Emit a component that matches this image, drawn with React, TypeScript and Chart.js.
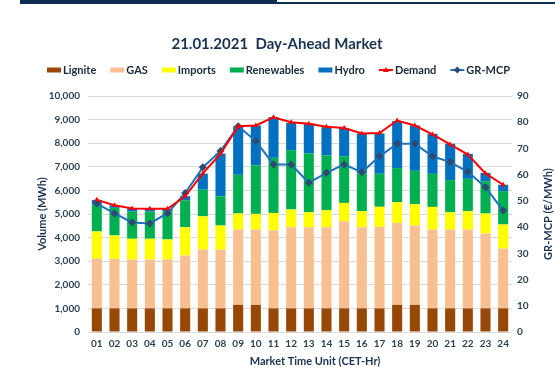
import React, { useEffect, useRef } from "react";
import { Chart, registerables } from "chart.js";

Chart.register(...registerables);

const hours = ["01","02","03","04","05","06","07","08","09","10","11","12","13","14","15","16","17","18","19","20","21","22","23","24"];
const lignite = [1000,1000,1000,1000,1000,1000,1000,1000,1150,1150,1000,1000,1000,1000,1000,1000,1000,1150,1150,1000,1000,1000,1000,1000];
const gas = [2110,2100,2070,2070,2070,2240,2490,2490,3190,3190,3310,3440,3440,3440,3690,3440,3455,3475,3360,3340,3340,3340,3170,2535];
const imports = [1150,990,880,880,850,1200,1410,1020,680,665,735,750,635,720,780,680,850,875,905,960,735,780,850,1020];
const renewables = [1140,1170,1150,1150,1200,1145,1130,1240,1640,2050,2335,2515,2490,2320,1980,1600,1400,1445,1415,1400,1360,1370,1370,1415];
const hydro = [200,110,130,130,100,170,680,1810,2060,1700,1725,1160,1275,1200,1190,1695,1710,1995,1925,1700,1540,1060,355,270];
const demand = [5600,5370,5230,5220,5220,5750,6720,7550,8720,8750,9100,8890,8820,8700,8640,8410,8430,8960,8750,8370,7950,7520,6720,6240];
const mcp = [49,45.2,41.8,41.4,45.3,53,62.8,69,78.5,72.8,63.9,63.9,56.9,60.7,63.9,60.9,67,71.8,71.8,67,64.8,61.1,55.2,46.3];

const FONT = "Lato, 'Noto Sans', sans-serif";
const C_LIGNITE = "#974706";
const C_GAS = "#F8C090";
const C_IMP = "#FFFF00";
const C_REN = "#00B050";
const C_HYD = "#0070C0";
const C_DEM = "#FF0000";
const C_MCP_LINE = "#1F72BA";
const C_MCP_PT = "#2E4A72";
const C_TEXT = "#1A3352";

const legendItems = [
  { label: "Lignite", kind: "box", color: C_LIGNITE },
  { label: "GAS", kind: "box", color: C_GAS },
  { label: "Imports", kind: "box", color: C_IMP },
  { label: "Renewables", kind: "box", color: C_REN },
  { label: "Hydro", kind: "box", color: C_HYD },
  { label: "Demand", kind: "dem", color: C_DEM },
  { label: "GR-MCP", kind: "mcp", color: C_MCP_LINE },
];

const decor = {
  id: "decor",
  afterDraw(chart: any) {
    const ctx = chart.ctx;
    const ca = chart.chartArea;
    ctx.save();
    ctx.fillStyle = C_TEXT;
    ctx.font = `bold 15px ${FONT}`;
    ctx.textAlign = "center";
    ctx.textBaseline = "middle";
    ctx.fillText("21.01.2021  Day-Ahead Market", 277, 44);

    ctx.font = `bold 11px ${FONT}`;
    const sym = 14;
    const gapSym = 2;
    const gapItem = 14;
    let total = 0;
    const widths = legendItems.map((it) => ctx.measureText(it.label).width);
    widths.forEach((w) => (total += sym + gapSym + w));
    total += gapItem * (legendItems.length - 1);
    let x = 278.5 - total / 2;
    const ly = 70;
    ctx.textAlign = "left";
    legendItems.forEach((it, i) => {
      if (it.kind === "box") {
        ctx.fillStyle = it.color;
        ctx.fillRect(x, ly - 2.5, sym, 5);
      } else {
        ctx.strokeStyle = it.color;
        ctx.lineWidth = 2;
        ctx.beginPath();
        ctx.moveTo(x, ly);
        ctx.lineTo(x + sym, ly);
        ctx.stroke();
        const cx = x + sym / 2;
        if (it.kind === "dem") {
          ctx.fillStyle = C_DEM;
          ctx.beginPath();
          ctx.moveTo(cx, ly - 3);
          ctx.lineTo(cx + 3, ly + 2);
          ctx.lineTo(cx - 3, ly + 2);
          ctx.closePath();
          ctx.fill();
        } else {
          ctx.fillStyle = C_MCP_PT;
          ctx.beginPath();
          ctx.moveTo(cx, ly - 3.5);
          ctx.lineTo(cx + 3.5, ly);
          ctx.lineTo(cx, ly + 3.5);
          ctx.lineTo(cx - 3.5, ly);
          ctx.closePath();
          ctx.fill();
        }
      }
      ctx.fillStyle = "#1A2A3A";
      ctx.fillText(it.label, x + sym + gapSym, ly + 0.5);
      x += sym + gapSym + widths[i] + gapItem;
    });

    ctx.fillStyle = C_TEXT;
    ctx.font = `bold 11px ${FONT}`;
    ctx.textAlign = "center";
    ctx.fillText("Market Time Unit (CET-Hr)", 315, 361);

    ctx.save();
    ctx.translate(42, (ca.top + ca.bottom) / 2);
    ctx.rotate(-Math.PI / 2);
    ctx.fillText("Volume (MWh)", 0, 0);
    ctx.restore();

    ctx.save();
    ctx.translate(548, (ca.top + ca.bottom) / 2);
    ctx.rotate(-Math.PI / 2);
    ctx.fillText("GR-MCP (\u20AC/MWh)", 0, 0);
    ctx.restore();

    ctx.restore();
  },
};

export default function App() {
  const ref = useRef<HTMLCanvasElement | null>(null);
  useEffect(() => {
    if (!ref.current) return;
    const barCommon = {
      type: "bar" as const,
      yAxisID: "y",
      stack: "supply",
      order: 2,
      categoryPercentage: 1,
      barPercentage: 0.57,
      borderWidth: 0,
    };
    const chart = new Chart(ref.current, {
      type: "bar",
      data: {
        labels: hours,
        datasets: [
          {
            type: "line",
            label: "Demand",
            data: demand,
            yAxisID: "y",
            stack: "demand",
            order: 0,
            borderColor: C_DEM,
            backgroundColor: C_DEM,
            borderWidth: 2,
            pointStyle: "triangle",
            pointRadius: 3,
            pointBorderWidth: 0,
            tension: 0,
          },
          {
            type: "line",
            label: "GR-MCP",
            data: mcp,
            yAxisID: "y1",
            order: 1,
            borderColor: C_MCP_LINE,
            backgroundColor: C_MCP_PT,
            pointBackgroundColor: C_MCP_PT,
            pointBorderColor: C_MCP_PT,
            borderWidth: 2,
            pointStyle: "rectRot",
            pointRadius: 4,
            pointBorderWidth: 0,
            tension: 0,
          },
          { ...barCommon, label: "Lignite", data: lignite, backgroundColor: C_LIGNITE },
          { ...barCommon, label: "GAS", data: gas, backgroundColor: C_GAS },
          { ...barCommon, label: "Imports", data: imports, backgroundColor: C_IMP },
          { ...barCommon, label: "Renewables", data: renewables, backgroundColor: C_REN },
          { ...barCommon, label: "Hydro", data: hydro, backgroundColor: C_HYD },
        ] as any,
      },
      options: {
        responsive: false,
        animation: false,
        layout: { padding: { top: 96, left: 0, right: 0, bottom: 0 } },
        plugins: {
          legend: { display: false },
          title: { display: false },
          tooltip: { enabled: false },
        },
        scales: {
          x: {
            stacked: true,
            grid: { display: false, drawTicks: false },
            border: { display: false },
            ticks: {
              color: "#2B4155",
              font: { family: FONT, size: 10, weight: "bold" },
              padding: 6,
              maxRotation: 0,
              autoSkip: false,
            },
            afterFit: (s: any) => {
              s.height = 56;
            },
          },
          y: {
            position: "left",
            stacked: true,
            min: 0,
            max: 10000,
            grid: { color: "#D9D9D9", lineWidth: 1, drawTicks: false },
            border: { display: false },
            ticks: {
              stepSize: 1000,
              color: "#2B4155",
              font: { family: FONT, size: 10, weight: "bold" },
              padding: 8,
              callback: (v: any) => Number(v).toLocaleString("en-US"),
            },
            afterFit: (s: any) => {
              s.width = 88;
            },
          },
          y1: {
            position: "right",
            min: 0,
            max: 90,
            grid: { display: false, drawTicks: false },
            border: { display: false },
            ticks: {
              stepSize: 10,
              color: "#2B4155",
              font: { family: FONT, size: 10, weight: "bold" },
              padding: 5,
            },
            afterFit: (s: any) => {
              s.width = 43;
            },
          },
        },
      } as any,
      plugins: [decor],
    });
    return () => chart.destroy();
  }, []);

  return (
    <div style={{ position: "fixed", left: 0, top: 0, width: 555, height: 388, background: "#fff" }}>
      <div style={{ position: "absolute", left: 20, top: 0, width: 257, height: 4, background: "#0F2D52" }} />
      <div style={{ position: "absolute", left: 277, top: 2, width: 278, height: 1.5, background: "#0F2D52" }} />
      <canvas ref={ref} width={555} height={388} style={{ position: "absolute", left: 0, top: 0, width: 555, height: 388 }} />
    </div>
  );
}
